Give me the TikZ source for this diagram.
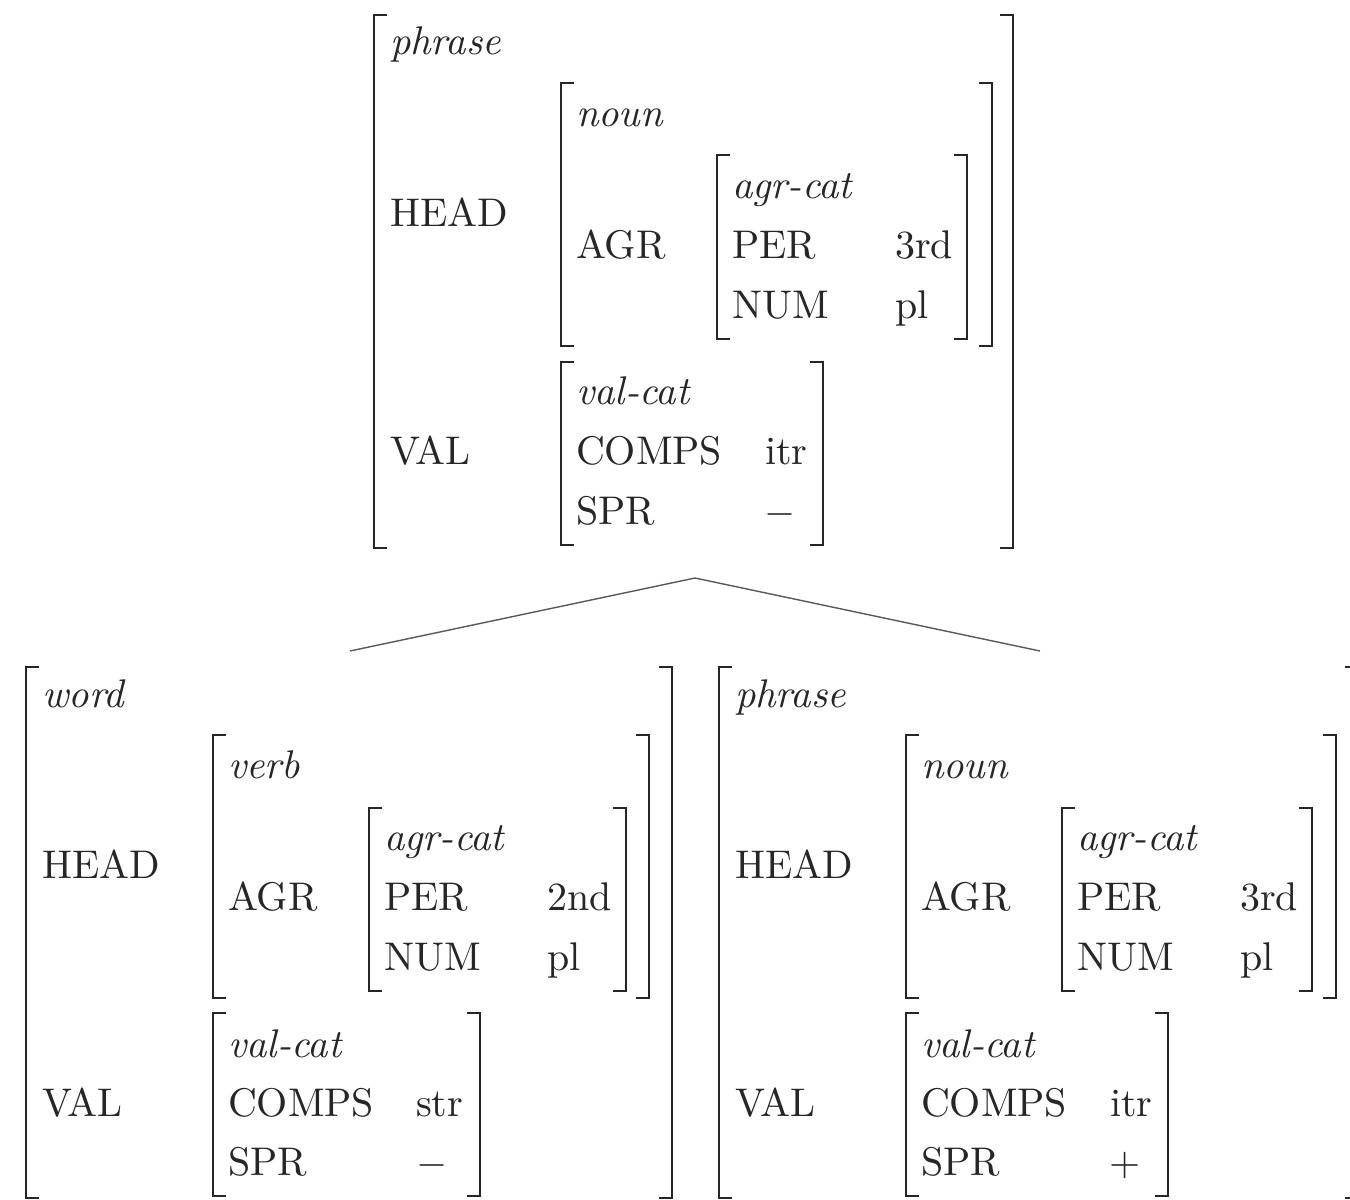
\documentclass[tikz,border=0pt]{standalone}
\usetikzlibrary{calc}
\tikzset{
  lbl/.style={anchor=base west, inner sep=0pt, outer sep=0pt, text=black!85},
  brk/.style={line width=0.65pt, line join=miter, draw=black!85},
  branch/.style={line width=0.35pt, draw=black!65}
}
\newcommand\avmLB[3]{\draw[brk] (#1+13,#2) -- (#1,#2) -- (#1,#3) -- (#1+13,#3);}
\newcommand\avmRB[3]{\draw[brk] (#1-13,#2) -- (#1,#2) -- (#1,#3) -- (#1-13,#3);}
\begin{document}
\begin{tikzpicture}[x=0.25pt, y=-0.25pt]
\clip (0,0) rectangle (1350,1200);
\fill[white] (0,0) rectangle (1350,1200);

% ---------- top AVM ----------
\begin{scope}[shift={(374,15)}]
  \node[lbl] (t-type) at (16,39) {\textit{phrase}};
  \node[lbl] (t-head) at (16,211) {HEAD};
  \node[lbl] (t-val) at (16,449) {VAL};
  \node[lbl] (t-htype) at (202,111) {\textit{noun}};
  \node[lbl] (t-agr) at (202,243) {AGR};
  \node[lbl] (t-atype) at (358,183) {\textit{agr-cat}};
  \node[lbl] (t-per) at (358,243) {PER};
  \node[lbl] (t-perv) at (521,243) {3rd};
  \node[lbl] (t-num) at (358,303) {NUM};
  \node[lbl] (t-numv) at (521,303) {pl};
  \node[lbl] (t-vtype) at (202,389) {\textit{val-cat}};
  \node[lbl] (t-comps) at (202,449) {COMPS};
  \node[lbl] (t-compsv) at (391,449) {itr};
  \node[lbl] (t-spr) at (202,509) {SPR};
  \node[lbl] (t-sprv) at (390,509) {$-$};
  \avmLB{0}{0}{533}   \avmRB{639}{0}{533}
  \avmLB{187}{68}{331} \avmRB{618}{68}{331}
  \avmLB{343}{140}{324} \avmRB{593}{140}{324}
  \avmLB{187}{347}{530} \avmRB{449}{347}{530}
\end{scope}

% ---------- bottom-left AVM ----------
\begin{scope}[shift={(26,667)}]
  \node[lbl] (l-type) at (16,40) {\textit{word}};
  \node[lbl] (l-head) at (16,211) {HEAD};
  \node[lbl] (l-val) at (16,449) {VAL};
  \node[lbl] (l-htype) at (202,111) {\textit{verb}};
  \node[lbl] (l-agr) at (202,243) {AGR};
  \node[lbl] (l-atype) at (358,183) {\textit{agr-cat}};
  \node[lbl] (l-per) at (358,243) {PER};
  \node[lbl] (l-perv) at (521,243) {2nd};
  \node[lbl] (l-num) at (358,303) {NUM};
  \node[lbl] (l-numv) at (521,303) {pl};
  \node[lbl] (l-vtype) at (202,390) {\textit{val-cat}};
  \node[lbl] (l-comps) at (202,449) {COMPS};
  \node[lbl] (l-compsv) at (390,449) {str};
  \node[lbl] (l-spr) at (202,508) {SPR};
  \node[lbl] (l-sprv) at (390,508) {$-$};
  \avmLB{0}{0}{531}   \avmRB{646}{0}{531}
  \avmLB{187}{68}{331} \avmRB{623}{68}{331}
  \avmLB{343}{141}{324} \avmRB{600}{141}{324}
  \avmLB{187}{346}{529} \avmRB{454}{346}{529}
\end{scope}

% ---------- bottom-right AVM ----------
\begin{scope}[shift={(719,667)}]
  \node[lbl] (r-type) at (16,40) {\textit{phrase}};
  \node[lbl] (r-head) at (16,211) {HEAD};
  \node[lbl] (r-val) at (16,449) {VAL};
  \node[lbl] (r-htype) at (202,111) {\textit{noun}};
  \node[lbl] (r-agr) at (202,243) {AGR};
  \node[lbl] (r-atype) at (358,183) {\textit{agr-cat}};
  \node[lbl] (r-per) at (358,243) {PER};
  \node[lbl] (r-perv) at (521,243) {3rd};
  \node[lbl] (r-num) at (358,303) {NUM};
  \node[lbl] (r-numv) at (521,303) {pl};
  \node[lbl] (r-vtype) at (202,390) {\textit{val-cat}};
  \node[lbl] (r-comps) at (202,449) {COMPS};
  \node[lbl] (r-compsv) at (391,449) {itr};
  \node[lbl] (r-spr) at (202,508) {SPR};
  \node[lbl] (r-sprv) at (390,508) {$+$};
  \avmLB{0}{0}{531}   \avmRB{639}{0}{531}
  \avmLB{187}{68}{331} \avmRB{617}{68}{331}
  \avmLB{343}{141}{324} \avmRB{593}{141}{324}
  \avmLB{187}{346}{529} \avmRB{449}{346}{529}
\end{scope}

% ---------- tree branches ----------
\coordinate (apex) at (695,578);
\coordinate (lend) at (350,651);
\coordinate (rend) at (1040,651);
\draw[branch] (lend) -- (apex) -- (rend);
\end{tikzpicture}
\end{document}
